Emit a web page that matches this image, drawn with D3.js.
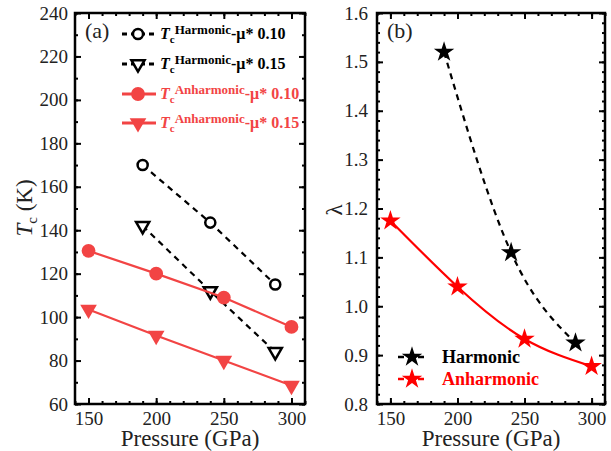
<!DOCTYPE html>
<html>
<head>
<meta charset="utf-8">
<title>Tc and lambda vs pressure</title>
<script src="https://cdn.jsdelivr.net/npm/d3@7"></script>
<style>
 body { margin: 0; background: #fff; }
 svg text { font-family: 'Liberation Serif', 'Times New Roman', serif !important; }
</style>
</head>
<body>
<div id="chart"></div>
<script>
// data
var harmP = [190, 240, 288];
var tcHarm010 = [170, 143.5, 115];
var tcHarm015 = [142, 112, 84];
var anhP = [150, 200, 250, 300];
var tcAnh010 = [130.5, 120, 109, 95.5];
var tcAnh015 = [103.5, 91.5, 80, 68.5];
var lamHarm = [1.52, 1.11, 0.925];
var lamAnh = [1.175, 1.04, 0.933, 0.877];

var xTicks = [150, 200, 250, 300];
var tcTicks = [60, 80, 100, 120, 140, 160, 180, 200, 220, 240];
var lamTicks = [0.8, 0.9, 1.0, 1.1, 1.2, 1.3, 1.4, 1.5, 1.6];

var red1 = "#f24444", red2 = "#ff0000";

var svg = d3.select("#chart").append("svg")
  .attr("width", 611).attr("height", 451);

var top_ = 13, bottom = 404;

function panel(left, right, ydom, yticks, yminor, yfmt, ypad) {
  var x = d3.scaleLinear().domain([140, 310]).range([left, right]);
  var y = d3.scaleLinear().domain(ydom).range([bottom, top_]);
  var g = svg.append("g");
  var minorX = d3.range(140, 311, 10);
  var minorY = d3.range(ydom[0], ydom[1] + 1e-9, yminor);

  // ticks on all sides, pointing in
  g.append("g").attr("transform", "translate(0," + bottom + ")")
    .call(d3.axisBottom(x).tickValues(minorX).tickSize(-3).tickFormat(""));
  g.append("g").attr("transform", "translate(0," + bottom + ")")
    .call(d3.axisBottom(x).tickValues(xTicks).tickSize(-6).tickPadding(8).tickFormat(d3.format("d")));
  g.append("g").attr("transform", "translate(0," + top_ + ")")
    .call(d3.axisTop(x).tickValues(minorX).tickSize(-3).tickFormat(""));
  g.append("g").attr("transform", "translate(0," + top_ + ")")
    .call(d3.axisTop(x).tickValues(xTicks).tickSize(-6).tickFormat(""));
  g.append("g").attr("transform", "translate(" + left + ",0)")
    .call(d3.axisLeft(y).tickValues(minorY).tickSize(-3).tickFormat(""));
  g.append("g").attr("transform", "translate(" + left + ",0)")
    .call(d3.axisLeft(y).tickValues(yticks).tickSize(-6).tickPadding(ypad).tickFormat(yfmt));
  g.append("g").attr("transform", "translate(" + right + ",0)")
    .call(d3.axisRight(y).tickValues(minorY).tickSize(-3).tickFormat(""));
  g.append("g").attr("transform", "translate(" + right + ",0)")
    .call(d3.axisRight(y).tickValues(yticks).tickSize(-6).tickFormat(""));
  g.selectAll(".domain").remove();
  g.selectAll(".tick line").attr("stroke", "#000").attr("stroke-width", 2);
  g.selectAll(".tick text").attr("font-size", 19).attr("fill", "#222");
  g.append("rect").attr("x", left).attr("y", top_)
    .attr("width", right - left).attr("height", bottom - top_)
    .attr("fill", "none").attr("stroke", "#000").attr("stroke-width", 2.5);

  g.append("text").attr("x", (left + right) / 2).attr("y", 446)
    .attr("text-anchor", "middle").attr("font-size", 23).attr("fill", "#222")
    .text("Pressure (GPa)");
  return { x: x, y: y, g: g };
}

var A = panel(75, 305, [60, 240], tcTicks, 10, function(d) { return d; }, 7);
var B = panel(377, 605, [0.8, 1.6], lamTicks, 0.02, d3.format(".1f"), 9);

// ---- panel (a)
var la = A.g.append("g");
function seriesA(px, py, dash, color, sym, filled, size) {
  var pts = px.map(function(p, i) { return [p, py[i]]; });
  la.append("path").datum(pts)
    .attr("d", d3.line().x(function(d) { return A.x(d[0]); }).y(function(d) { return A.y(d[1]); }))
    .attr("fill", "none").attr("stroke", color).attr("stroke-width", 2.2)
    .attr("stroke-dasharray", dash);
  la.selectAll(null).data(pts).enter().append("path")
    .attr("transform", function(d) { return "translate(" + A.x(d[0]) + "," + A.y(d[1]) + ")" + (sym === d3.symbolTriangle ? " rotate(180)" : ""); })
    .attr("d", d3.symbol().type(sym).size(size))
    .attr("fill", filled ? color : "#fff").attr("stroke", color).attr("stroke-width", filled ? 0 : 2.5);
}
seriesA(harmP, tcHarm010, "6,5", "#000", d3.symbolCircle, false, 80);
seriesA(harmP, tcHarm015, "6,5", "#000", d3.symbolTriangle, false, 75);
seriesA(anhP, tcAnh010, null, red1, d3.symbolCircle, true, 150);
seriesA(anhP, tcAnh015, null, red1, d3.symbolTriangle, true, 120);

svg.append("text").attr("x", 85).attr("y", 38).attr("font-size", 22).attr("fill", "#222").text("(a)");

// legend (a)
var legA = [
  { sup: "Harmonic", mu: "0.10", color: "#000", sym: d3.symbolCircle, filled: false, size: 80, dash: "5,4" },
  { sup: "Harmonic", mu: "0.15", color: "#000", sym: d3.symbolTriangle, filled: false, size: 75, dash: "5,4" },
  { sup: "Anharmonic", mu: "0.10", color: red1, sym: d3.symbolCircle, filled: true, size: 150, dash: null },
  { sup: "Anharmonic", mu: "0.15", color: red1, sym: d3.symbolTriangle, filled: true, size: 120, dash: null }
];
var rowsY = [34, 64, 94, 123];
legA.forEach(function(d, i) {
  var yy = rowsY[i];
  svg.append("line").attr("x1", 122).attr("x2", 156).attr("y1", yy).attr("y2", yy)
    .attr("stroke", d.color).attr("stroke-width", 3).attr("stroke-dasharray", d.dash);
  svg.append("path")
    .attr("transform", "translate(138," + yy + ")" + (d.sym === d3.symbolTriangle ? " rotate(180)" : ""))
    .attr("d", d3.symbol().type(d.sym).size(d.size))
    .attr("fill", d.filled ? d.color : "#fff").attr("stroke", d.color).attr("stroke-width", d.filled ? 0 : 2.5);
  var t = svg.append("text").attr("x", 160).attr("y", yy + 5).attr("fill", d.color)
    .attr("font-weight", "bold").attr("font-size", 16);
  t.append("tspan").attr("font-style", "italic").text("T");
  t.append("tspan").attr("font-size", 11).attr("dy", 4).text("c");
  t.append("tspan").attr("font-size", 13).attr("dy", -9).text(d.sup);
  t.append("tspan").attr("dy", 5).text("-\u03bc* " + d.mu);
});

// y label (a)
var yl = svg.append("text").attr("transform", "translate(32,208) rotate(-90)")
  .attr("text-anchor", "middle").attr("font-size", 23).attr("fill", "#222");
yl.append("tspan").attr("font-style", "italic").text("T");
yl.append("tspan").attr("font-size", 15).attr("dy", 5).text("c");
yl.append("tspan").attr("dy", -5).text(" (K)");

// ---- panel (b)
var lb = B.g.append("g");
function seriesB(px, py, dash, color) {
  var pts = px.map(function(p, i) { return [p, py[i]]; });
  lb.append("path").datum(pts)
    .attr("d", d3.line().curve(d3.curveNatural).x(function(d) { return B.x(d[0]); }).y(function(d) { return B.y(d[1]); }))
    .attr("fill", "none").attr("stroke", color).attr("stroke-width", 2.2)
    .attr("stroke-dasharray", dash);
  lb.selectAll(null).data(pts).enter().append("path")
    .attr("transform", function(d) { return "translate(" + B.x(d[0]) + "," + B.y(d[1]) + ")"; })
    .attr("d", d3.symbol().type(d3.symbolStar).size(130))
    .attr("fill", color);
}
seriesB(harmP, lamHarm, "6,5", "#000");
seriesB(anhP, lamAnh, null, red2);

svg.append("text").attr("x", 387).attr("y", 38).attr("font-size", 22).attr("fill", "#222").text("(b)");
svg.append("text").attr("transform", "translate(342,210) rotate(-90)")
  .attr("text-anchor", "middle").attr("font-size", 23).attr("fill", "#222").text("\u03bb");

var legB = [
  { name: "Harmonic", color: "#000", y: 357 },
  { name: "Anharmonic", color: red2, y: 379 }
];
legB.forEach(function(d) {
  svg.append("line").attr("x1", 398).attr("x2", 426).attr("y1", d.y).attr("y2", d.y)
    .attr("stroke", d.color).attr("stroke-width", 2.5).attr("stroke-dasharray", "6,4");
  svg.append("path").attr("transform", "translate(412," + d.y + ")")
    .attr("d", d3.symbol().type(d3.symbolStar).size(130)).attr("fill", d.color);
  svg.append("text").attr("x", 442).attr("y", d.y + 6).attr("fill", d.color)
    .attr("font-weight", "bold").attr("font-size", 18).text(d.name);
});
</script>
</body>
</html>
